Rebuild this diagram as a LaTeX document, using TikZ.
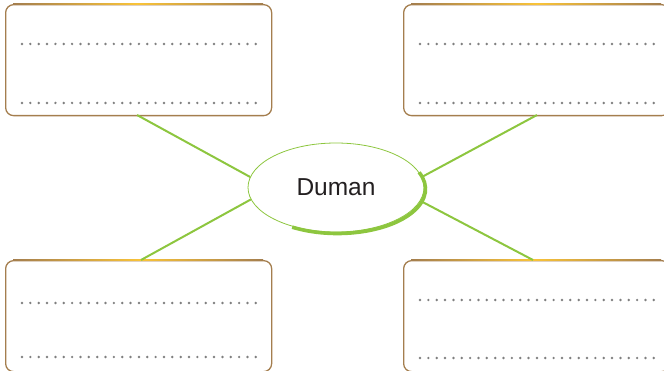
\documentclass[tikz,border=0pt]{standalone}
\usepackage{fontspec}
\setmainfont{Liberation Sans}
\usetikzlibrary{shapes.geometric,calc}
\begin{document}
\begin{tikzpicture}[x=1pt,y=-1pt,
  boxbrown/.style={draw=bbrown,line width=1.3pt,rounded corners=8pt,minimum width=266pt,minimum height=111pt,inner sep=0pt,anchor=north west},
  dotline/.style={draw=dotgray,line width=2.7pt,line cap=round,dash pattern=on 0pt off 8.35pt},
  conn/.style={draw=lgreen,line width=2pt}]
\definecolor{bbrown}{HTML}{A47E4E}
\definecolor{borange}{HTML}{F9C338}
\definecolor{dotgray}{HTML}{7F7F7F}
\definecolor{lgreen}{HTML}{8DC63F}
\definecolor{txt}{HTML}{231F20}
\useasboundingbox (0,0) rectangle (664,371);
\coordinate (c1) at (137,115);
\coordinate (c2) at (141,260);
\coordinate (c3) at (537,115);
\coordinate (c4) at (533,260);
% boxes
\node[boxbrown] (tl) at (5,4) {};
\node[boxbrown] (tr) at (403,4) {};
\node[boxbrown] (bl) at (5,260) {};
\node[boxbrown] (br) at (403,260) {};
% top-edge highlights
\foreach \x/\y/\m in {5/4/137,403/4/537,5/260/141,403/260/533}{
  \shade[left color=bbrown,right color=borange] (\x+8,\y-0.65) rectangle (\m,\y+0.65);
  \shade[left color=borange,right color=bbrown] (\m,\y-0.65) rectangle (\x+258,\y+0.65);
}
% central ellipse
\node[ellipse,draw=lgreen,line width=0.8pt,minimum width=176pt,minimum height=89pt,inner sep=0pt,text=txt,font=\fontsize{24.5}{28}\selectfont] (e) at (336,187.5) {Duman};
\draw[lgreen,line width=3.6pt] ($(e.center)+(-121:88pt and 44.5pt)+(1.5,1.5)$) arc[start angle=-121,end angle=22,x radius=88pt,y radius=44.5pt];
\draw[conn] (c1) -- (e.173);
\draw[conn] (c2) -- (e.188);
\draw[conn] (c3) -- (e.7.5);
\draw[conn] (c4) -- (e.-9);
% dotted lines
\draw[dotline] (22,44) -- (256,44);
\draw[dotline] (22,103) -- (256,103);
\draw[dotline] (420,44) -- (654,44);
\draw[dotline] (420,103) -- (654,103);
\draw[dotline] (22,303) -- (256,303);
\draw[dotline] (22,357) -- (256,357);
\draw[dotline] (420,300) -- (654,300);
\draw[dotline] (420,358) -- (654,358);
\end{tikzpicture}
\end{document}
